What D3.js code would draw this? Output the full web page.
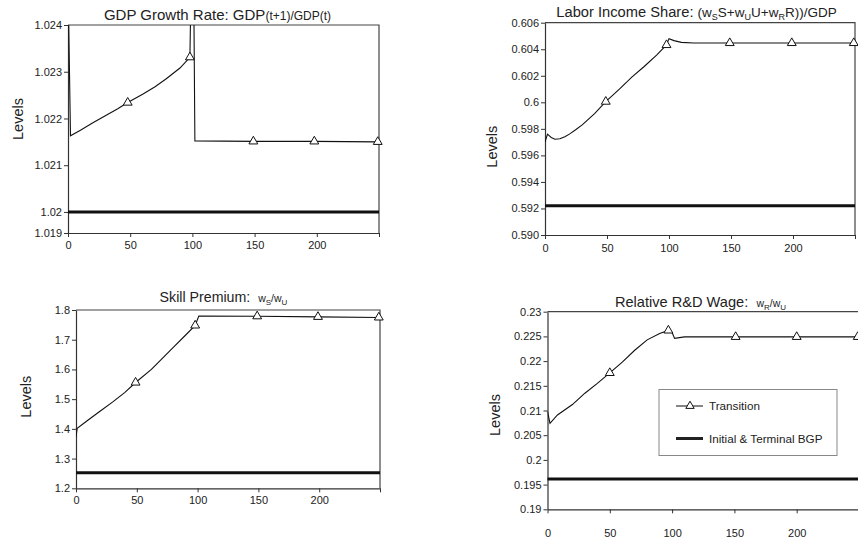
<!DOCTYPE html>
<html>
<head>
<meta charset="utf-8">
<script src="https://cdn.jsdelivr.net/npm/d3@7"></script>
<style>
  body { margin: 0; background: #fff; }
  svg { display: block; font-family: "Liberation Sans", Arial, sans-serif; }
</style>
</head>
<body>
<div id="chart"></div>
<script>
// shared x axis (periods)
const xTicks = [0, 50, 100, 150, 200, 250];
const xTickLabels = ["0", "50", "100", "150", "200", ""];

// GDP growth rate
const gdpT = [0, 2, 10, 20, 30, 40, 48, 60, 70, 79, 90, 98, 99, 101, 102, 149, 198, 249];
const gdpV = [1.025, 1.02163, 1.02175, 1.02191, 1.02206, 1.02221, 1.02234, 1.02252, 1.02268, 1.02285,
  1.02308, 1.02331, 1.025, 1.025, 1.02152, 1.02151, 1.02151, 1.0215];
const gdpMarkers = [48, 98, 149, 198, 249];
const gdpBGP = 1.02;
const gdpYTicks = [1.01955, 1.02, 1.021, 1.022, 1.023, 1.024];
const gdpYLabels = ["1.019", "1.02", "1.021", "1.022", "1.023", "1.024"];

// labor income share
const laborT = [0, 2, 5, 8, 12, 16, 20, 25, 30, 40, 49, 60, 70, 80, 90, 98, 100, 104, 110, 120, 149, 199, 249];
const laborV = [0.597, 0.5976, 0.59735, 0.59722, 0.59725, 0.5974, 0.59762, 0.59795, 0.5983, 0.59915,
  0.60005, 0.601, 0.6019, 0.6027, 0.60355, 0.60432, 0.6048, 0.60465, 0.60452, 0.60447, 0.60447,
  0.60447, 0.60447];
const laborMarkers = [49, 98, 149, 199, 249];
const laborBGP = 0.59221;
const laborYTicks = [0.59, 0.592, 0.594, 0.596, 0.598, 0.6, 0.602, 0.604, 0.606];
const laborYLabels = ["0.590", "0.592", "0.594", "0.596", "0.598", "0.6", "0.602", "0.604", "0.606"];

// skill premium
const skillT = [0, 1, 10, 20, 30, 40, 49, 62, 70, 80, 90, 98, 101, 149, 199, 249];
const skillV = [1.374, 1.402, 1.43, 1.46, 1.49, 1.522, 1.556, 1.6, 1.633, 1.674, 1.715, 1.748,
  1.78, 1.779, 1.777, 1.775];
const skillMarkers = [49, 98, 149, 199, 249];
const skillBGP = 1.252;
const skillYTicks = [1.2, 1.3, 1.4, 1.5, 1.6, 1.7, 1.8];
const skillYLabels = ["1.2", "1.3", "1.4", "1.5", "1.6", "1.7", "1.8"];

// relative R&D wage
const rdT = [0, 2, 8, 20, 30, 40, 50, 60, 70, 80, 90, 97, 100, 102, 110, 151, 200, 249];
const rdV = [0.2098, 0.2074, 0.2091, 0.2112, 0.2135, 0.2155, 0.2176, 0.2198, 0.2222, 0.2243, 0.2256,
  0.2262, 0.2258, 0.2246, 0.2249, 0.2249, 0.2249, 0.2249];
const rdMarkers = [50, 97, 151, 200, 249];
const rdBGP = 0.19615;
const rdYTicks = [0.19, 0.195, 0.2, 0.205, 0.21, 0.215, 0.22, 0.225, 0.23];
const rdYLabels = ["0.19", "0.195", "0.2", "0.205", "0.21", "0.215", "0.22", "0.225", "0.23"];

const legendLabels = ["Transition", "Initial & Terminal BGP"];

const svg = d3.select("#chart").append("svg").attr("width", 858).attr("height", 540);

function drawPanel(p, idx) {
  const x = d3.scaleLinear().domain([0, 250]).range([p.left, p.right]);
  const y = d3.scaleLinear()
    .domain([p.yTicks[0], p.yTicks[p.yTicks.length - 1]])
    .range([p.bottom, p.top]);

  const g = svg.append("g");

  g.append("clipPath").attr("id", "clip" + idx)
    .append("rect")
    .attr("x", p.left).attr("y", p.top)
    .attr("width", p.right - p.left).attr("height", p.bottom - p.top);

  // frame top and right
  g.append("path")
    .attr("d", `M${p.left},${p.top}H${p.right}V${p.bottom}`)
    .attr("fill", "none").attr("stroke", "#444").attr("stroke-width", 1.2);

  const xAxis = g.append("g")
    .attr("transform", `translate(0,${p.bottom})`)
    .call(d3.axisBottom(x).tickValues(xTicks).tickFormat((d, i) => xTickLabels[i])
      .tickSize(4).tickSizeOuter(0).tickPadding(p.xPad));
  const yAxis = g.append("g")
    .attr("transform", `translate(${p.left},0)`)
    .call(d3.axisLeft(y).tickValues(p.yTicks).tickFormat((d, i) => p.yLabels[i])
      .tickSize(4).tickSizeOuter(0).tickPadding(2));
  [xAxis, yAxis].forEach((a) => {
    a.select(".domain").attr("stroke", "#333").attr("stroke-width", 1.2);
    a.selectAll(".tick line").attr("stroke", "#333");
    a.selectAll("text").attr("fill", "#222").style("font-size", "11px")
      .style("font-family", "'Liberation Sans', Arial, sans-serif");
  });

  const data = p.t.map((t, i) => ({ t: t, v: p.v[i] }));
  const line = d3.line().x((d) => x(d.t)).y((d) => y(d.v));

  g.append("line")
    .attr("x1", x(0)).attr("x2", x(250))
    .attr("y1", y(p.bgp)).attr("y2", y(p.bgp))
    .attr("stroke", "#111").attr("stroke-width", 3);

  g.append("path")
    .datum(data)
    .attr("clip-path", `url(#clip${idx})`)
    .attr("d", line)
    .attr("fill", "none").attr("stroke", "#111").attr("stroke-width", 1.1);

  g.selectAll(".marker")
    .data(data.filter((d) => p.markers.includes(d.t)))
    .join("path")
    .attr("class", "marker")
    .attr("transform", (d) => `translate(${x(d.t)},${y(d.v)})`)
    .attr("d", d3.symbol(d3.symbolTriangle, 34))
    .attr("fill", "#fff").attr("stroke", "#111").attr("stroke-width", 1);

  g.append("text")
    .attr("transform", `translate(${p.labelX},${p.labelY}) rotate(-90)`)
    .attr("text-anchor", "middle").attr("dy", "0.35em")
    .attr("fill", "#222").style("font-size", "14.5px")
    .text("Levels");

  const title = g.append("text")
    .attr("x", p.titleX).attr("y", p.titleY)
    .attr("text-anchor", "middle").attr("fill", "#222")
    .attr("xml:space", "preserve");
  let shift = 0;
  p.title.forEach(([txt, size, sub]) => {
    const dy = sub ? 3 - shift : -shift;
    shift = sub ? 3 : 0;
    title.append("tspan").attr("dy", dy).style("font-size", size + "px").text(txt);
  });

  return { x, y, g };
}

drawPanel({
  left: 68, right: 379, top: 25, bottom: 233, xPad: 4,
  t: gdpT, v: gdpV, markers: gdpMarkers, bgp: gdpBGP, yTicks: gdpYTicks, yLabels: gdpYLabels,
  labelX: 17.5, labelY: 119, titleX: 217.5, titleY: 20,
  title: [["GDP Growth Rate: GDP", 15], ["(t+1)/GDP(t)", 12]],
}, 1);

drawPanel({
  left: 545, right: 855, top: 22.7, bottom: 235, xPad: 5,
  t: laborT, v: laborV, markers: laborMarkers, bgp: laborBGP, yTicks: laborYTicks, yLabels: laborYLabels,
  labelX: 491.7, labelY: 146.7, titleX: 696.5, titleY: 17,
  title: [["Labor Income Share: ", 14.7], ["(w", 13.5], ["S", 9, true], ["S+w", 13.5], ["U", 9, true],
    ["U+w", 13.5], ["R", 9, true], ["R))/GDP", 13.5]],
}, 2);

drawPanel({
  left: 76, right: 380, top: 310, bottom: 488.3, xPad: 4,
  t: skillT, v: skillV, markers: skillMarkers, bgp: skillBGP, yTicks: skillYTicks, yLabels: skillYLabels,
  labelX: 26, labelY: 396.7, titleX: 223.5, titleY: 302,
  title: [["Skill Premium:\u00a0\u00a0", 14.2], ["w", 10.5], ["S", 8, true], ["/w", 10.5], ["U", 8, true]],
}, 3);

drawPanel({
  left: 547.5, right: 859, top: 311.7, bottom: 509.3, xPad: 16,
  t: rdT, v: rdV, markers: rdMarkers, bgp: rdBGP, yTicks: rdYTicks, yLabels: rdYLabels,
  labelX: 495, labelY: 415, titleX: 700.5, titleY: 306.5,
  title: [["Relative R&D Wage:\u00a0\u00a0", 14.6], ["w", 10.5], ["R", 8, true], ["/w", 10.5], ["U", 8, true]],
}, 4);

// legend
const legend = svg.append("g").attr("transform", "translate(659,389.5)");
legend.append("rect")
  .attr("width", 178).attr("height", 66)
  .attr("fill", "#fff").attr("stroke", "#888").attr("stroke-width", 1);
const rows = legend.selectAll(".row")
  .data(legendLabels)
  .join("g")
  .attr("class", "row")
  .attr("transform", (d, i) => `translate(17,${16.5 + i * 32.5})`);
rows.append("line")
  .attr("x1", 0).attr("x2", 27)
  .attr("stroke", "#222")
  .attr("stroke-width", (d, i) => (i === 0 ? 1.1 : 3));
rows.filter((d, i) => i === 0)
  .append("path")
  .attr("transform", "translate(14,0)")
  .attr("d", d3.symbol(d3.symbolTriangle, 30))
  .attr("fill", "#fff").attr("stroke", "#111");
rows.append("text")
  .attr("x", 33).attr("dy", "0.35em")
  .attr("fill", "#222").style("font-size", "11.7px")
  .text((d) => d);
</script>
</body>
</html>
